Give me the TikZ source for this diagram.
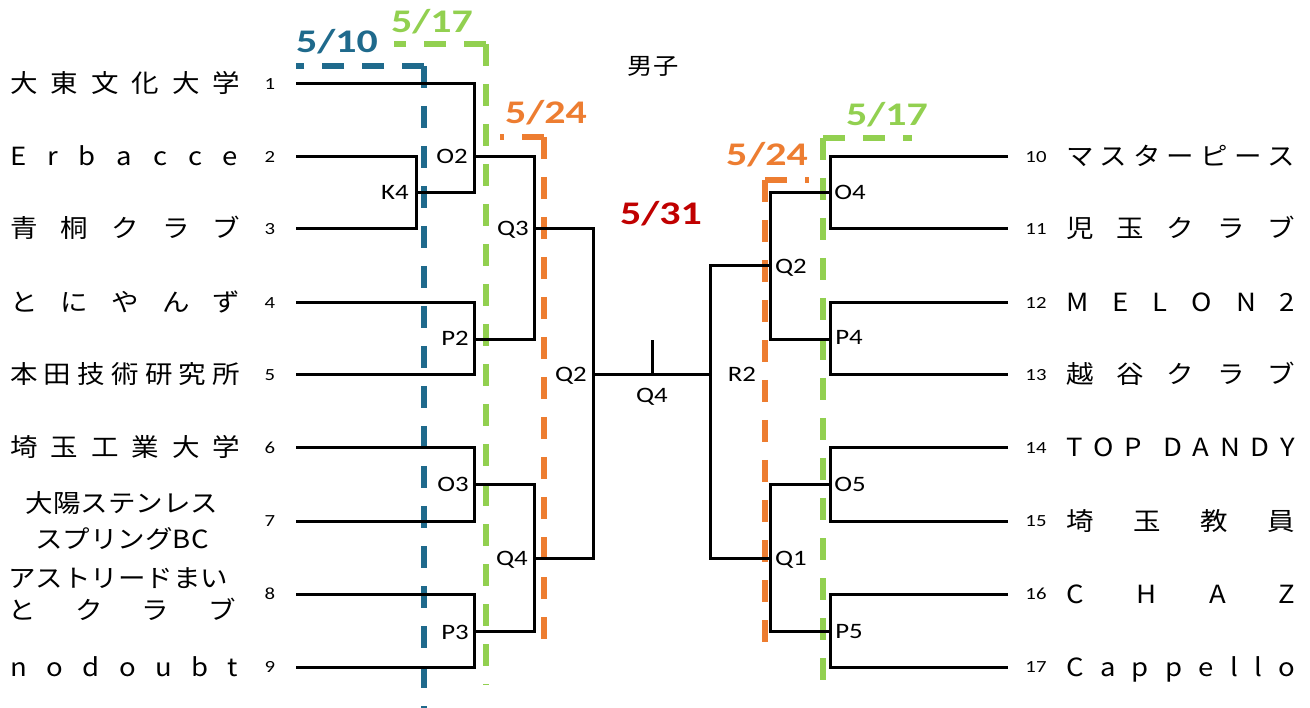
\documentclass[tikz,border=0pt]{standalone}
\usepackage{fontspec}
\newfontfamily\cjk{Noto Sans CJK JP}[FakeStretch=1.1]
\newfontfamily\lab{Carlito}[FakeStretch=1.22]
\newfontfamily\dat{Carlito}[FakeStretch=1.27]
\definecolor{dblue}{HTML}{1F6A8C}
\definecolor{lgreen}{HTML}{92D050}
\definecolor{dorange}{HTML}{ED7D31}
\definecolor{dred}{HTML}{C00000}
\newcommand\spr[2]{\makebox[#1][l]{#2}}
\begin{document}
\begin{tikzpicture}[x=1pt,y=-1pt,
  br/.style={line width=3pt},
  team/.style={anchor=west, inner sep=0pt, font=\cjk\fontsize{25}{30}\selectfont, text height=22pt, text depth=4pt},
  teamc/.style={inner sep=0pt, font=\cjk\fontsize{25}{30}\selectfont, text height=22pt, text depth=4pt},
  num/.style={inner sep=0pt, font=\lab\fontsize{17}{20}\selectfont},
  lbl/.style={inner sep=0pt, font=\lab\fontsize{22}{25}\selectfont, text height=14pt, text depth=0pt},
  datel/.style={inner sep=0pt, font=\dat\bfseries\fontsize{33}{36}\selectfont},
  dsh/.style={line width=5.5pt, dash pattern=on 22pt off 18pt},
]
\useasboundingbox (0,0) rectangle (1310,708);

% dashed date lines (each drawn from its corner)
\coordinate (cb) at (424,66);
\coordinate (cgl) at (486,44);
\coordinate (col) at (544,137);
\coordinate (cgr) at (823,138);
\coordinate (cor) at (765,180);
\draw[dsh, dblue] (cb) -- (296,66);
\draw[dsh, dblue] (cb) -- (424,708);
\draw[dsh, lgreen] (cgl) -- (394,44);
\draw[dsh, lgreen] (cgl) -- (486,685);
\draw[dsh, dorange] (col) -- (500,137);
\draw[dsh, dorange] (col) -- (544,647);
\draw[dsh, lgreen] (cgr) -- (912,138);
\draw[dsh, lgreen] (cgr) -- (823,695);
\draw[dsh, dorange] (cor) -- (809,180);
\draw[dsh, dorange] (cor) -- (765,647);

% left teams
\node[team] (n1) at (10,84) {\spr{230pt}{大\hfill 東\hfill 文\hfill 化\hfill 大\hfill 学}};
\node[team] (n2) at (10,157) {\spr{228pt}{E\hfill r\hfill b\hfill a\hfill c\hfill c\hfill e}};
\node[team] (n3) at (10,229) {\spr{230pt}{青\hfill 桐\hfill ク\hfill ラ\hfill ブ}};
\node[team] (n4) at (10,303) {\spr{230pt}{と\hfill に\hfill や\hfill ん\hfill ず}};
\node[team] (n5) at (10,375) {\spr{230pt}{本\hfill 田\hfill 技\hfill 術\hfill 研\hfill 究\hfill 所}};
\node[team] (n6) at (10,448) {\spr{230pt}{埼\hfill 玉\hfill 工\hfill 業\hfill 大\hfill 学}};
\node[teamc] (n7a) at (122,504) {大陽ステンレス};
\node[teamc] (n7b) at (122,539) {スプリングBC};
\node[team] (n8a) at (8,578) {アストリードまい};
\node[team] (n8b) at (8,610) {\spr{228pt}{と\hfill ク\hfill ラ\hfill ブ}};
\node[team] (n9) at (10,667) {\spr{228pt}{n\hfill o\hfill d\hfill o\hfill u\hfill b\hfill t}};

% right teams
\node[team] (n10) at (1066,157) {\spr{229pt}{マ\hfill ス\hfill タ\hfill ー\hfill ピ\hfill ー\hfill ス}};
\node[team] (n11) at (1066,229) {\spr{229pt}{児\hfill 玉\hfill ク\hfill ラ\hfill ブ}};
\node[team] (n12) at (1066,303) {\spr{229pt}{M\hfill E\hfill L\hfill O\hfill N\hfill 2}};
\node[team] (n13) at (1066,375) {\spr{229pt}{越\hfill 谷\hfill ク\hfill ラ\hfill ブ}};
\node[team] (n14) at (1066,448) {\spr{229pt}{T\hfill O\hfill P\hfill\hfill D\hfill A\hfill N\hfill D\hfill Y}};
\node[team] (n15) at (1066,521) {\spr{229pt}{埼\hfill 玉\hfill 教\hfill 員}};
\node[team] (n16) at (1066,594) {\spr{229pt}{C\hfill H\hfill A\hfill Z}};
\node[team] (n17) at (1066,667) {\spr{229pt}{C\hfill a\hfill p\hfill p\hfill e\hfill l\hfill l\hfill o}};

% numbers
\foreach \i/\y in {1/84,2/157,3/229,4/303,5/375,6/448,7/521,8/594,9/667}
  \node[num] (k\i) at (270,\y) {\i};
\foreach \i/\y in {10/157,11/229,12/303,13/375,14/448,15/521,16/594,17/667}
  \node[num] (k\i) at (1036,\y) {\i};

% bracket anchor points
\foreach \i/\y in {1/84,2/157,3/229,4/303,5/375,6/448,7/521,8/594,9/667}
  \coordinate (L\i) at (296,\y);
\foreach \i/\y in {10/157,11/229,12/303,13/375,14/448,15/521,16/594,17/667}
  \coordinate (R\i) at (1008,\y);
\coordinate (k4) at (416,193);
\coordinate (o2) at (474,157);
\coordinate (p2) at (474,340);
\coordinate (o3) at (474,485);
\coordinate (p3) at (474,631);
\coordinate (q3) at (534,229);
\coordinate (q4l) at (534,558);
\coordinate (q2l) at (593,375);
\coordinate (q4c) at (652,375);
\coordinate (q4t) at (652,340);
\coordinate (r2) at (710,375);
\coordinate (q2r) at (770,266);
\coordinate (q1r) at (770,558);
\coordinate (o4) at (830,193);
\coordinate (p4) at (830,340);
\coordinate (o5) at (830,485);
\coordinate (p5) at (830,631);

% left bracket
\draw[br] (L2) -| (k4) |- (L3);
\draw[br] (L1) -| (o2) |- (k4);
\draw[br] (L4) -| (p2) |- (L5);
\draw[br] (L6) -| (o3) |- (L7);
\draw[br] (L8) -| (p3) |- (L9);
\draw[br] (o2) -| (q3) |- (p2);
\draw[br] (o3) -| (q4l) |- (p3);
\draw[br] (q3) -| (q2l) |- (q4l);
\draw[br] (q2l) -- (r2);
\draw[br] (q4c) -- (q4t);
% right bracket
\draw[br] (q2r) -| (r2) |- (q1r);
\draw[br] (o4) -| (q2r) |- (p4);
\draw[br] (o5) -| (q1r) |- (p5);
\draw[br] (R10) -| (o4) |- (R11);
\draw[br] (R12) -| (p4) |- (R13);
\draw[br] (R14) -| (o5) |- (R15);
\draw[br] (R16) -| (p5) |- (R17);

% match labels
\node[lbl] (lk4) at (395,193) {K4};
\node[lbl] (lo2) at (452,157) {O2};
\node[lbl] (lq3) at (513,229) {Q3};
\node[lbl] (lp2) at (455,339) {P2};
\node[lbl] (lq2l) at (571,375) {Q2};
\node[lbl] (lo3) at (453,485) {O3};
\node[lbl] (lq4l) at (512,558) {Q4};
\node[lbl] (lp3) at (455,632) {P3};
\node[lbl] (lq4c) at (652,396) {Q4};
\node[lbl] (lr2) at (742,375) {R2};
\node[lbl] (lq2r) at (791,267) {Q2};
\node[lbl] (lo4) at (850,193) {O4};
\node[lbl] (lp4) at (849,338) {P4};
\node[lbl] (lq1) at (791,558) {Q1};
\node[lbl] (lo5) at (850,485) {O5};
\node[lbl] (lp5) at (849,631) {P5};

% dates and title
\node[datel, text=dblue] (d510) at (337,42) {5/10};
\node[datel, text=lgreen] (d517l) at (432,22) {5/17};
\node[datel, text=dorange] (d524l) at (546,113) {5/24};
\node[datel, text=dred] (d531) at (661,214) {5/31};
\node[datel, text=dorange] (d524r) at (767,155) {5/24};
\node[datel, text=lgreen] (d517r) at (887,115) {5/17};
\node[inner sep=0pt, font=\cjk\fontsize{23}{27}\selectfont] (title) at (653,66) {男子};
\end{tikzpicture}
\end{document}
